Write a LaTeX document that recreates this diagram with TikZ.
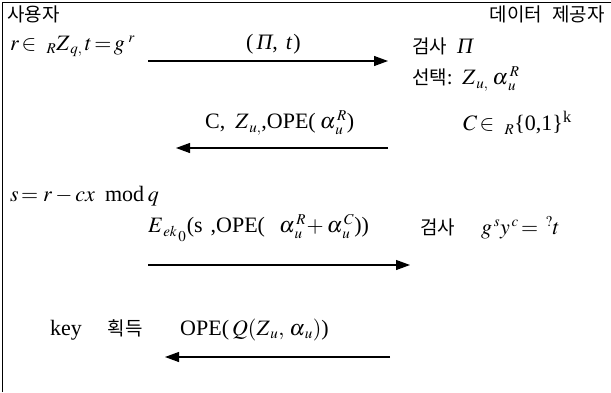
\documentclass[tikz,border=0pt]{standalone}
\usepackage{amsmath}
\usepackage{mathptmx}
\usepackage[no-math]{fontspec}
\setmainfont{Liberation Serif}
\newfontfamily\kr{Noto Sans CJK KR}
\usepackage{tikz}
\usetikzlibrary{arrows.meta,positioning}

\tikzset{
  txt/.style={anchor=west, inner sep=0pt},
  msg/.style={line width=1.1pt, -{Triangle[length=14pt,width=10pt]}},
}
\newcommand{\krtxt}[1]{{\kr\fontsize{19}{21}\selectfont #1}}
\newcommand{\gap}[1]{\hspace*{#1pt}}
% larger sub- and superscripts, as in the scan
\newcommand{\lo}[1]{_{\mbox{\fontsize{15}{15}\selectfont$#1$}}}
\newcommand{\hi}[1]{^{\mbox{\fontsize{15}{15}\selectfont$#1$}}}

\begin{document}
\begin{tikzpicture}[x=1pt, y=-1pt, font=\fontsize{22}{24}\selectfont]
\useasboundingbox (0,0) rectangle (611,392);
% frame: only top and left edge
\draw[line width=0.9pt] (2,392) -- (2,2) -- (611,2);
% ---------- headers ----------
\node[txt] (user) at (7,14) {\krtxt{사용자}};
\node[anchor=east, inner sep=0pt] (provider) at (605,14) {\krtxt{데이터\gap{10}제공자}};
% ---------- commitment ----------
\node[txt] (commit) at (10,46) {$r\!\in\ {}\lo{R}Z\lo{\,q,}\,t\!=\!g\hi{\;r}$};
\node[txt] (msgA) at (246,44) {(\gap{3}\textit{Π},\gap{8}\textit{t}\gap{1})};
\node[txt] (checkPi) at (412,46) {\krtxt{검사}\gap{10}\textit{Π}};
\node[txt] (choose) at (412,79) {\krtxt{선택:}\gap{10}$Z\lo{\,u,}$\gap{4}$\alpha\hi{\,R}\lo{\,u}$};
\coordinate (a1s) at (148,61);
\coordinate (a1e) at (388,61);
\draw[msg] (a1s) -- (a1e);
% ---------- challenge ----------
\node[txt] (msgB) at (205,123) {C,\gap{10}$Z\lo{\,u,}$,OPE(\gap{4}$\alpha\hi{\,R}\lo{\,u}$)};
\node[txt] (chal) at (463,123) {$C\!\in\ {}\lo{R}$\{0,1\}\textsuperscript{k}};
\coordinate (a2s) at (388,148);
\coordinate (a2e) at (176,148);
\draw[msg] (a2s) -- (a2e);
% ---------- response ----------
\node[txt] (resp) at (10,196) {$s\!=r-cx$\gap{10}mod\,$q$};
\node[txt] (msgC) at (148,228) {$E\lo{\,ek\lo{\,0}}$(s\gap{8},OPE(\gap{14}$\alpha\hi{\,R}\lo{\,u}\!+\alpha\hi{\,C}\lo{\,u}$))};
\node[txt] (verify) at (420,228) {\krtxt{검사}\gap{26}$g\hi{\,s}y\hi{\,c}\!=\,\hi{?}t$};
\coordinate (a3s) at (148,265);
\coordinate (a3e) at (410,265);
\draw[msg] (a3s) -- (a3e);
% ---------- key ----------
\node[txt] (keyget) at (50,330) {key\gap{26}\krtxt{획득}};
\node[txt] (msgD) at (180,330) {OPE(\gap{3}$Q(Z\lo{\,u},\,\alpha\lo{\,u})$)};
\coordinate (a4s) at (390,357);
\coordinate (a4e) at (165,357);
\draw[msg] (a4s) -- (a4e);
\end{tikzpicture}
\end{document}
